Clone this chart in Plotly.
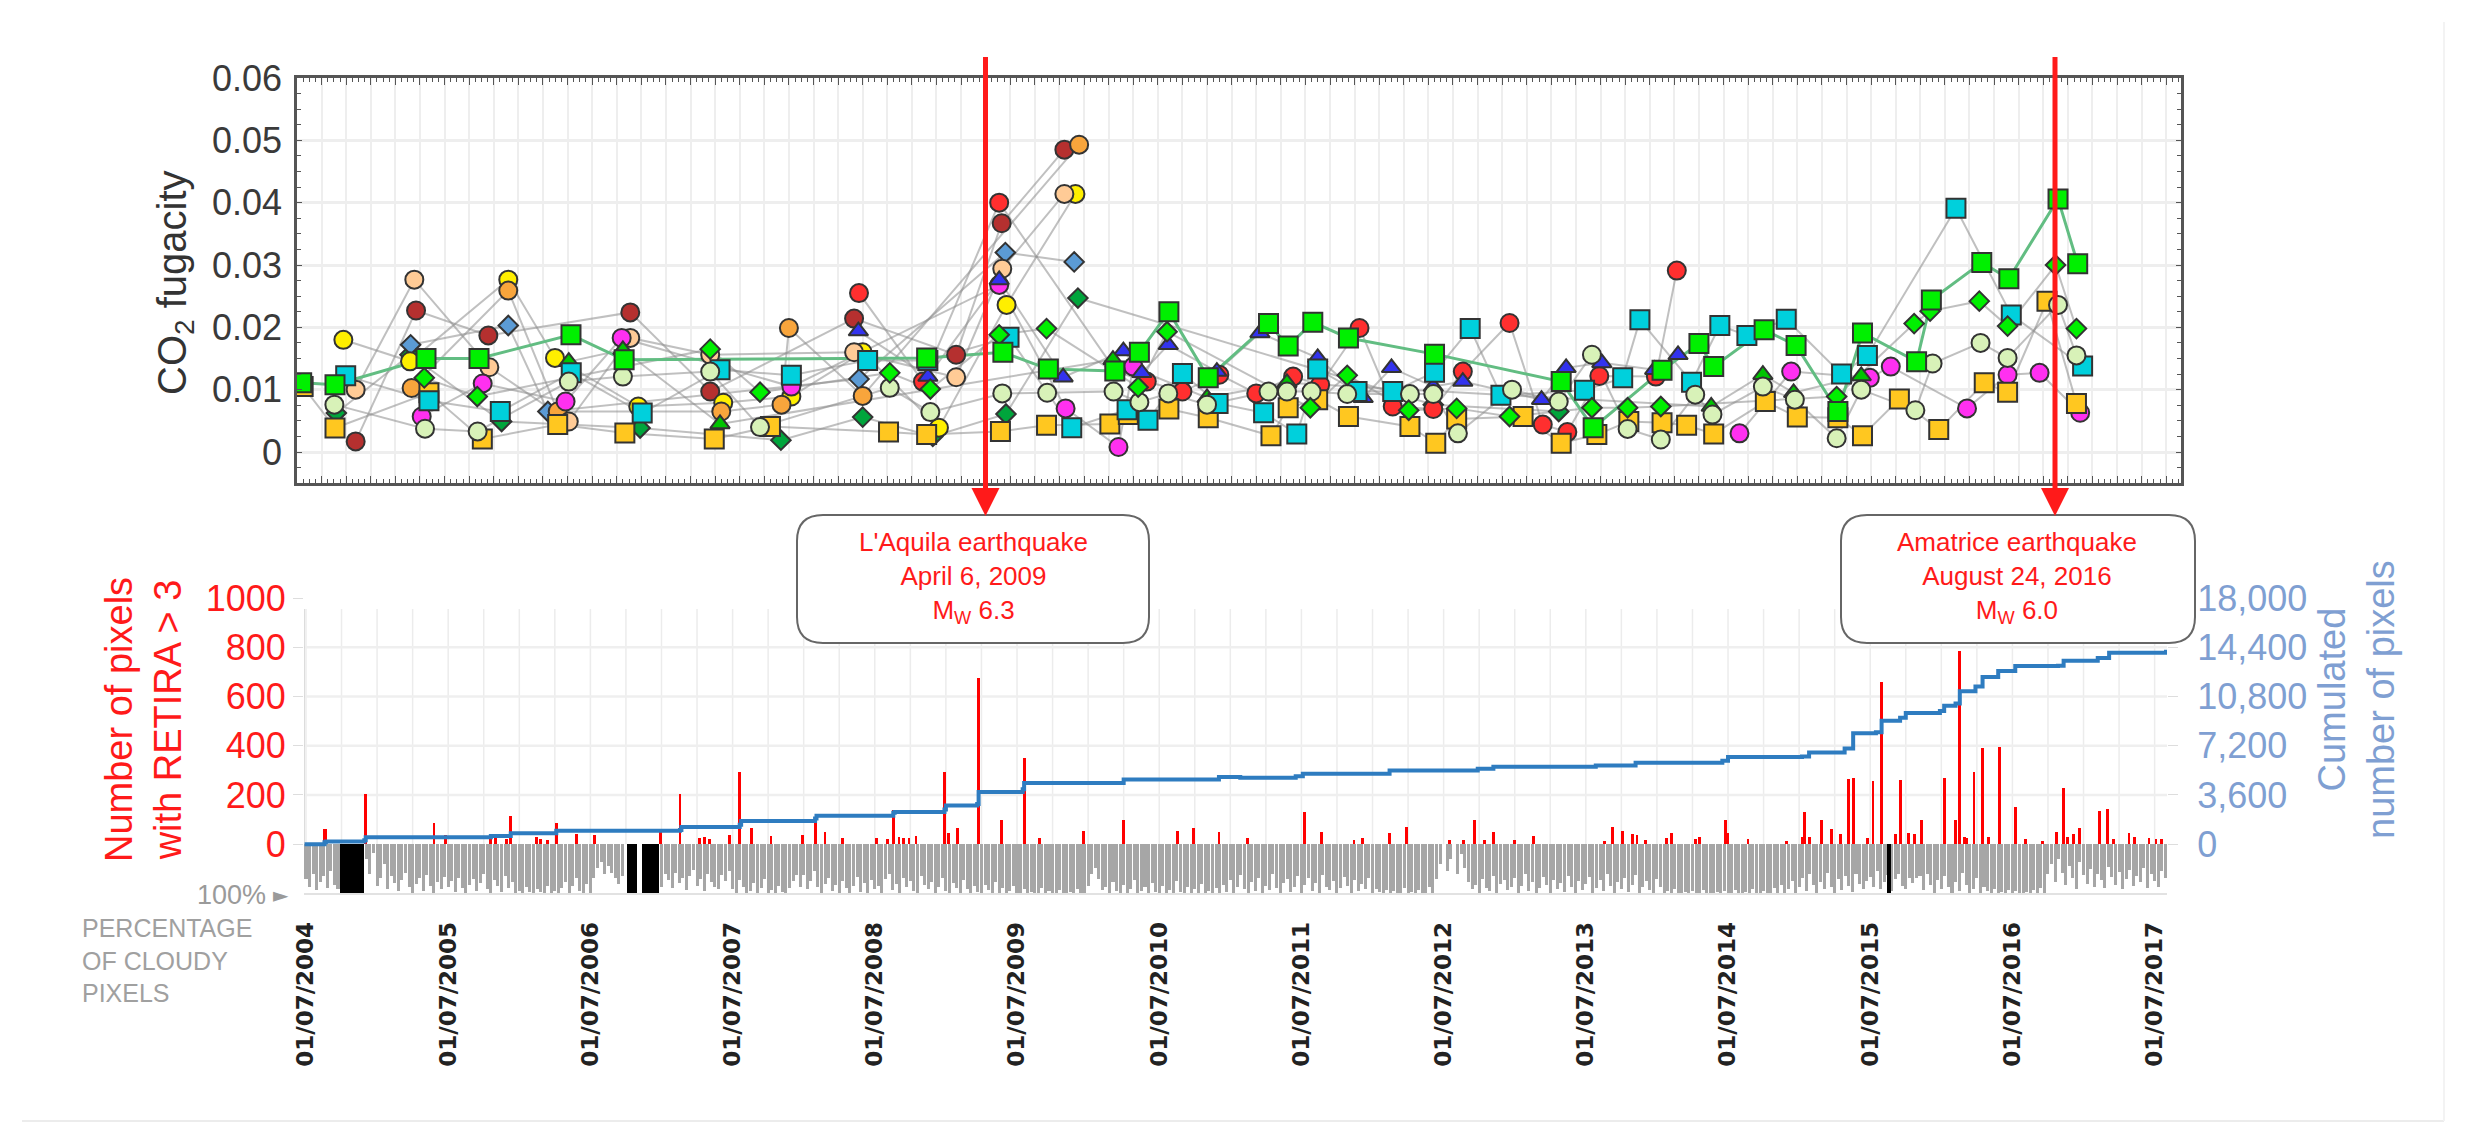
import plotly.graph_objects as go

W, H = 2475, 1139
PAGE_MARGIN = 8  # browser default body margin around the plot div

# ---- top panel: CO2 fugacity, x = months since July 2004
lime_sq_x = [0.38,3.09,10.49,14.8,22.28,26.6,51.2,57.4,61.1,66.5,68.5,70.9,74.1,79,80.6,82.6,85.5,92.5,102.8,105.4,111,114,115.2,119.3,121.9,125.3,127.3,131.7,132.9,137,139.2,143.2,144.8]
lime_sq_y = [.0111,.0108,.0150,.0150,.0188,.0148,.0151,.016,.0133,.013,.016,.0225,.0119,.0206,.017,.0208,.0183,.0157,.0113,.0039,.0131,.0174,.0137,.0196,.0171,.0065,.0191,.0145,.0244,.0304,.0278,.0406,.0302]

gold_sq_x = [0.5,3.09,10.73,15.07,21.2,26.66,33.93,38.5,48.1,51.2,57.2,60.95,66.1,67.6,70.9,74.1,79.2,80.6,83,85.5,90.5,92.6,94.3,99.7,102.8,105.7,108.3,111,113,115.2,119.4,122,125.3,127.3,130.3,133.5,137.2,139.1,142.3,144.7]
gold_sq_y = [.0105,.00385,.0095,.0021,.0044,.00305,.0021,.0041,.0032,.0028,.0033,.0043,.0045,.006,.0069,.0055,.0026,.0071,.0084,.0057,.0041,.0014,.0053,.0057,.0014,.0028,.0049,.0047,.0043,.0029,.0081,.0056,.0055,.0026,.0085,.0036,.0111,.0096,.0242,.0078]

cyan_sq_x = [3.96,10.73,16.53,22.3,28.07,34.4,40.2,46.4,51.3,57.9,63,67.5,69.2,72,74.9,78.6,81.3,83,86.2,89.1,92.5,95.4,97.9,104.7,107.8,109.2,113.4,115.7,117.9,121.1,125.6,127.7,134.9,139.4,145.2]
cyan_sq_y = [.01225,.00824,.0065,.0127,.00626,.0132,.0123,.0147,.0147,.0184,.0039,.0068,.0051,.0126,.0078,.0063,.0029,.0133,.0097,.0097,.0128,.0198,.0091,.0099,.0119,.0212,.0112,.0203,.0187,.0213,.0125,.0155,.0391,.022,.0138]

pale_x = [3.04,10.41,14.69,22.1,26.5,33.6,37.65,48.2,51.5,57.35,61,66.4,68.5,70.85,74,79,80.5,82.5,85.4,90.5,92.4,94.4,98.8,102.6,105.3,108.2,110.9,113.7,115.1,119.2,121.8,125.2,127.2,131.6,133,136.9,139.1,143.2,144.7]
pale_y = [.0076,.00374,.0033,.0113,.0121,.0129,.004,.0103,.0064,.0094,.0095,.0097,.008,.0094,.0076,.0097,.0097,.0097,.0093,.0093,.0093,.003,.01,.0081,.0156,.0037,.002,.0092,.006,.0105,.0084,.0022,.01,.0067,.0142,.0175,.0151,.0236,.0155]

lime_dia_x = [10.35,14.66,33.6,37.65,48.2,51.5,57.1,60.95,68.4,70.75,82.4,85.4,90.4,94.3,98.6,105.3,108.2,110.9,125.2,131.5,132.8,136.8,139.1,143,144.7]
lime_dia_y = [.0119,.0089,.0165,.0096,.0127,.0101,.0188,.0198,.0104,.0193,.0071,.0123,.0067,.007,.0057,.0071,.0071,.0073,.0089,.0206,.0226,.0242,.0202,.03,.0198]

dark_dia_x = [3.2,9.19,16.64,27.9,39.35,46,51.7,57.65,63.5,92.4,102.6]
dark_dia_y = [.00626,.0156,.0049,.00385,.0019,.0056,.0025,.0061,.0247,.0076,.0065]

blue_dia_x = [9.24,17.18,20.4,45.7,57.6,63.2]
blue_dia_y = [.0172,.0203,.0065,.0117,.032,.0305]

green_tri_x = [22.1,26.5,34.4,66.35,74,80.5,115,119.2,121.7,127.2]
green_tri_y = [.0145,.0164,.0045,.0148,.0087,.0111,.0073,.0124,.0095,.0122]

blue_tri_x = [45.65,51.3,57.1,62.3,67.2,68.7,70.85,74.8,78.3,83,86.7,89,92.4,94.8,101.2,103.2,106.1,110.4,112.3]
blue_tri_y = [.0194,.0121,.0276,.012,.0162,.0127,.0172,.0129,.0191,.0151,.0087,.0135,.0105,.0113,.0084,.0135,.0143,.0132,.0156]

red_x = [45.7,50.9,57.1,66.6,69.1,72,75,78,81,83.2,86.4,89.1,92.4,94.8,98.6,101.3,103.3,105.9,110.5,112.2]
red_y = [.0255,.0113,.04,.0129,.0113,.0097,.0124,.0094,.0121,.0108,.0199,.0073,.0069,.0129,.0207,.0044,.0032,.0122,.0121,.0291]

darkred_x = [4.77,9.68,15.56,27.1,33.6,45.3,53.6,57.3,62.4]
darkred_y = [.0017,.0227,.0187,.0224,.0097,.0214,.0156,.0367,.0485]

peach_x = [4.77,9.54,15.64,22.1,27.1,33.6,45.3,53.6,57.35,62.4]
peach_y = [.01,.02765,.0136,.0049,.0183,.0156,.016,.012,.0294,.0414]

orange_x = [9.32,17.18,21.2,34.5,39.4,40,46,63.6]
orange_y = [.01027,.0259,.0065,.0065,.0076,.0199,.009,.0493]

yellow_x = [3.77,9.19,17.18,20.98,27.75,34.66,40.2,46,52.2,57.7,63.3]
yellow_y = [.018,.01455,.02765,.0151,.0073,.0079,.0089,.016,.0039,.0236,.0414]

magenta_x = [10.14,15.1,21.84,26.4,40.2,57.1,62.5,66.8,68,90,117.3,121.5,127.9,129.6,135.8,139.1,141.7,145]
magenta_y = [.0057,.011,.0081,.0183,.0105,.0268,.007,.0008,.0137,None,.003,.0129,.0119,.0137,.007,.0124,.0127,.0063]

# ---- bottom panel, x = decimal year
red_bar_years = [2004.63,2004.64,2004.92,2005.40,2005.48,2005.80,2005.83,2005.91,2005.94,2006.12,2006.15,2006.20,2006.26,2006.40,2006.53,2006.99,2007.13,2007.27,2007.30,2007.34,2007.48,2007.55,2007.63,2007.77,2007.99,2008.08,2008.15,2008.27,2008.51,2008.59,2008.63,2008.67,2008.70,2008.74,2008.79,2008.99,2009.02,2009.08,2009.23,2009.39,2009.55,2009.66,2009.97,2010.25,2010.63,2010.74,2010.92,
                 2011.12,2011.52,2011.64,2011.87,2011.93,2012.12,2012.24,2012.54,2012.64,2012.72,2012.79,2012.85,2013.00,2013.13,2013.63,2013.69,2013.76,2013.83,2013.86,2013.92,2014.07,2014.10,2014.27,2014.30,2014.48,2014.50,2014.64,2014.91,2015.02,2015.04,2015.07,2015.16,2015.23,2015.29,2015.35,2015.38,2015.48,2015.52,2015.58,2015.68,2015.71,2015.77,2015.81,2015.86,2016.02,2016.10,2016.13,2016.16,2016.18,2016.23,2016.29,2016.33,2016.41,2016.52,2016.59,2016.71,2016.81,2016.86,2016.89,2016.93,2016.97,2017.11,2017.17,2017.21,2017.32,2017.36,2017.46,2017.51,2017.55]
red_bar_pixels = [60,60,205,85,38,25,25,22,115,30,20,18,88,40,38,55,205,25,28,20,38,295,65,35,38,100,50,25,25,20,140,30,25,25,35,295,45,65,675,100,350,25,55,100,55,65,50,
                  25,130,50,18,25,45,70,18,18,100,18,50,18,35,15,70,55,40,38,18,25,45,22,28,100,45,20,15,30,130,30,100,60,40,265,270,25,255,660,40,260,45,40,100,270,100,785,30,25,295,390,30,395,150,20,15,50,230,30,40,65,135,145,20,45,30,25,20,20]

cum_years = [2004.49,2004.63,2004.64,2004.91,2004.92,2005.80,2005.94,2006.26,2007.13,2007.14,2007.55,2007.56,2008.08,2008.09,2008.63,2008.64,2008.99,2009.00,2009.22,2009.23,2009.54,2009.55,2010.25,2010.92,
             2011.07,2011.46,2011.51,2012.12,2012.74,2012.85,2013.57,2013.85,2014.46,2014.50,2015.02,2015.07,2015.32,2015.38,2015.54,2015.58,2015.71,2015.75,2015.99,2016.02,2016.10,2016.13,2016.24,2016.29,2016.40,2016.52,2016.82,2016.86,2017.10,2017.18,2017.58]
cum_pixels = [0,150,208,300,507,596,805,983,1043,1252,1430,1699,1877,2086,2295,2354,2533,2831,2950,3814,4023,4470,4738,4917,
              4857,4977,5155,5394,5513,5662,5751,5960,6109,6377,6407,6705,7003,8106,8195,9029,9238,9596,9745,10132,10281,11175,11532,12217,12665,13022,13052,13410,13619,14006,14215]

# percentage of cloudy pixels, one reading per 0.025 year from mid 2004
cloud_start = 2004.5
cloud_step = 0.025
cloud_pct = [
    72,88,60,94,78,66,90,55,84,92,0,0,0,0,0,0,0,30,62,18,
    85,70,40,92,66,80,96,74,58,88,100,82,70,95,64,86,100,78,92,68,
    88,76,98,70,90,100,84,72,96,80,60,92,100,74,86,98,66,90,78,100,
    95,100,88,98,100,92,97,100,85,100,96,100,90,78,100,86,70,95,100,82,
    100,70,48,36,62,44,58,70,82,66,0,0,0,0,0,0,0,0,0,62,
    88,62,74,90,58,80,70,94,66,52,86,72,96,60,78,88,92,64,75,54,
    92,100,74,88,100,96,80,100,90,72,100,94,100,86,98,100,90,76,64,88,
    64,92,75,54,88,100,82,70,96,84,100,76,90,100,86,68,98,80,100,74,
    92,86,100,72,60,94,82,100,70,88,76,96,100,66,84,92,78,100,88,70,
    96,100,80,90,100,74,92,100,86,98,100,84,94,100,78,100,90,100,96,86,
    100,100,92,100,98,100,100,90,100,96,100,100,94,100,100,98,100,92,100,100,
    86,60,48,72,94,88,100,78,96,100,84,100,92,74,100,96,88,100,80,98,
    100,86,100,94,100,76,98,100,88,100,92,100,82,100,96,100,90,100,84,98,
    74,100,88,64,92,100,78,96,70,100,86,94,60,90,100,80,72,98,88,66,
    100,84,70,96,80,100,64,88,94,76,100,90,68,86,100,74,96,82,92,70,
    100,92,98,100,94,100,96,100,100,90,100,98,100,94,100,100,88,100,72,40,
    0,55,30,0,62,20,48,78,92,84,100,72,90,96,66,100,82,74,94,88,
    70,100,86,62,96,78,100,90,68,84,100,74,92,80,98,66,88,100,76,94,
    82,68,100,90,74,96,60,86,100,78,92,70,98,84,64,100,88,76,94,100,
    72,88,100,96,100,92,100,100,98,100,96,100,100,94,100,100,100,98,100,96,
    100,100,94,100,100,98,100,92,100,100,96,100,100,90,100,84,100,92,76,100,
    88,70,96,62,84,100,78,92,58,88,100,72,94,66,86,98,60,82,92,76,
    68,88,54,92,78,64,96,72,60,86,92,70,80,70,66,94,62,84,100,74,
    92,66,88,100,78,96,58,84,100,92,70,100,88,96,100,92,100,98,100,94,
    100,96,100,100,98,100,94,100,90,100,62,40,78,30,58,84,44,70,92,36,
    64,82,50,88,60,74,90,46,68,84,56,92,72,52,86,66,78,48,90,62,
    76,88,54,70,92,60,82,50,74,86,58,94,66,44,80,72,56,88,68,
]

black_start = [2004.74,2006.757,2006.863,2015.618]
black_end = [2004.908,2006.828,2006.982,2015.646]

year_labels = [f"01/07/{y}" for y in range(2004, 2018)]
right_ticks = [0,3600,7200,10800,14400,18000]
right_labels = ["0","3,600","7,200","10,800","14,400","18,000"]


def fx(px):
    return (px - PAGE_MARGIN) / (W - 2 * PAGE_MARGIN)


def fy(py):
    return 1 - (py - PAGE_MARGIN) / (H - 2 * PAGE_MARGIN)


def rounded_box(x0, y0, x1, y1, r):
    return (f"M {fx(x0+r)} {fy(y0)} L {fx(x1-r)} {fy(y0)} Q {fx(x1)} {fy(y0)} {fx(x1)} {fy(y0+r)} "
            f"L {fx(x1)} {fy(y1-r)} Q {fx(x1)} {fy(y1)} {fx(x1-r)} {fy(y1)} "
            f"L {fx(x0+r)} {fy(y1)} Q {fx(x0)} {fy(y1)} {fx(x0)} {fy(y1-r)} "
            f"L {fx(x0)} {fy(y0+r)} Q {fx(x0)} {fy(y0)} {fx(x0+r)} {fy(y0)} Z")


fig = go.Figure()

# drawing order of the scatter series, bottom to top
series = [
    (dark_dia_x, dark_dia_y, "diamond", "#00a53c", 15),
    (blue_dia_x, blue_dia_y, "diamond", "#5b9bd5", 15),
    (darkred_x, darkred_y, "circle", "#b5302f", 18),
    (red_x, red_y, "circle", "#ff2f2f", 18),
    (yellow_x, yellow_y, "circle", "#ffef00", 18),
    (orange_x, orange_y, "circle", "#f8a53c", 18),
    (peach_x, peach_y, "circle", "#ffcb96", 18),
    (magenta_x, magenta_y, "circle", "#ff30f0", 18),
    (blue_tri_x, blue_tri_y, "triangle-up", "#3333ee", 17),
    (green_tri_x, green_tri_y, "triangle-up", "#00c400", 17),
    (gold_sq_x, gold_sq_y, "square", "#ffc720", 19),
    (cyan_sq_x, cyan_sq_y, "square", "#00d0dc", 19),
    (pale_x, pale_y, "circle", "#d8f2b8", 18),
    (lime_dia_x, lime_dia_y, "diamond", "#00f000", 15),
    (lime_sq_x, lime_sq_y, "square", "#00f000", 19),
]

# lines first so they all stay under the markers
for xs, ys, sym, col, size in series:
    is_lime_sq = xs is lime_sq_x
    fig.add_trace(go.Scatter(
        x=xs, y=ys, mode="lines", xaxis="x", yaxis="y", showlegend=False,
        line=dict(color="#62bd82" if is_lime_sq else "rgba(140,140,140,0.55)", width=3 if is_lime_sq else 2),
    ))
for xs, ys, sym, col, size in series:
    fig.add_trace(go.Scatter(
        x=xs, y=ys, mode="markers", xaxis="x", yaxis="y", showlegend=False,
        marker=dict(symbol=sym, color=col, size=size, line=dict(color="#333333", width=2)),
    ))

# cloud cover hangs below the zero line of the bottom panel
cloud_years = [cloud_start + cloud_step * i for i in range(len(cloud_pct))]
fig.add_trace(go.Bar(
    x=cloud_years, y=[-p * 1.98 for p in cloud_pct], width=cloud_step * 0.85, xaxis="x2", yaxis="y2",
    marker=dict(color="#a6a6a6", line_width=0), showlegend=False,
))
fig.add_trace(go.Bar(
    x=[(a + b) / 2 for a, b in zip(black_start, black_end)], y=[-198] * len(black_start),
    width=[b - a for a, b in zip(black_start, black_end)], xaxis="x2", yaxis="y2",
    marker=dict(color="#000000", line_width=0), showlegend=False,
))
fig.add_trace(go.Bar(
    x=red_bar_years, y=red_bar_pixels, width=0.02, xaxis="x2", yaxis="y2",
    marker=dict(color="#ff0000", line_width=0), showlegend=False,
))
fig.add_trace(go.Scatter(
    x=cum_years, y=cum_pixels, mode="lines", xaxis="x2", yaxis="y3", showlegend=False,
    line=dict(color="#2e7cc0", width=4, shape="hv"),
))

shapes = []
# bottom panel grid stops short of the 1000 label
for i in range(53):
    yr = 2004.5 + i * 0.25
    shapes.append(dict(type="line", xref="x2", yref="y2", x0=yr, x1=yr, y0=0, y1=955,
                       line=dict(color="#ececec", width=1.5), layer="below"))
for v in [200, 400, 600, 800]:
    shapes.append(dict(type="line", xref="x2", yref="y2", x0=2004.486, x1=2017.587, y0=v, y1=v,
                       line=dict(color="#efefef", width=2.5), layer="below"))
shapes.append(dict(type="line", xref="x2", yref="y2", x0=2004.486, x1=2004.486, y0=0, y1=955,
                   line=dict(color="#d0d0d0", width=1.5), layer="below"))

# page frame
shapes.append(dict(type="line", xref="paper", yref="paper", x0=fx(22), x1=fx(2444), y0=fy(1121), y1=fy(1121),
                   line=dict(color="#ececec", width=2)))
shapes.append(dict(type="line", xref="paper", yref="paper", x0=fx(2444), x1=fx(2444), y0=fy(22), y1=fy(1121),
                   line=dict(color="#f3f3f3", width=2)))

# callouts and earthquake arrows
for box in [(797, 515, 1149, 643), (1841, 515, 2195, 643)]:
    shapes.append(dict(type="path", xref="paper", yref="paper", path=rounded_box(*box, 26),
                       fillcolor="white", line=dict(color="#666666", width=2)))
for ax in [985.5, 2055]:
    shapes.append(dict(type="line", xref="paper", yref="paper", x0=fx(ax), x1=fx(ax), y0=fy(57), y1=fy(490),
                       line=dict(color="#ff1a1a", width=5)))
    shapes.append(dict(type="path", xref="paper", yref="paper", fillcolor="#ff1a1a", line_width=0,
                       path=f"M {fx(ax-14)} {fy(488)} L {fx(ax+14)} {fy(488)} L {fx(ax)} {fy(516)} Z"))

txt = "Liberation Sans"
annotations = [
    dict(text="CO<sub>2</sub> fugacity", x=fx(175), y=fy(283), textangle=-90,
         font=dict(size=40, color="#333333", family=txt)),
    dict(text="Number of pixels<br>with RETIRA &gt; 3", x=fx(143), y=fy(720), textangle=-90,
         font=dict(size=38, color="#ff1a1a", family=txt)),
    dict(text="Cumulated<br>number of pixels", x=fx(2356), y=fy(700), textangle=-90,
         font=dict(size=38, color="#7f9fd2", family=txt)),
    dict(text="L'Aquila earthquake<br>April 6, 2009<br>M<sub>W</sub> 6.3", x=fx(973), y=fy(577),
         font=dict(size=26, color="#ff1a1a", family=txt)),
    dict(text="Amatrice earthquake<br>August 24, 2016<br>M<sub>W</sub> 6.0", x=fx(2017), y=fy(577),
         font=dict(size=26, color="#ff1a1a", family=txt)),
    dict(text="100%", x=fx(231), y=fy(895),
         font=dict(size=27, color="#9a9a9a", family=txt)),
    dict(text="►", x=fx(281), y=fy(895),
         font=dict(size=20, color="#9a9a9a", family="DejaVu Sans")),
    dict(text="PERCENTAGE<br>OF CLOUDY<br>PIXELS", x=fx(80), y=fy(960), xanchor="left", align="left",
         font=dict(size=25, color="#a0a0a0", family=txt)),
]
for a in annotations:
    a.setdefault("xanchor", "center")
    a.update(xref="paper", yref="paper", showarrow=False, yanchor="middle")

fig.update_layout(
    width=W - 2 * PAGE_MARGIN, height=H - 2 * PAGE_MARGIN,
    margin=dict(l=0, r=0, t=0, b=0, autoexpand=False),
    paper_bgcolor="white", plot_bgcolor="rgba(0,0,0,0)", barmode="overlay", bargap=0,
    shapes=shapes, annotations=annotations, showlegend=False,
    xaxis=dict(
        domain=[fx(297), fx(2181)], anchor="y", range=[0, 153.2], automargin=False,
        tick0=0, dtick=2, showgrid=True, gridcolor="#eeeeee", gridwidth=2,
        showticklabels=False, ticks="inside", ticklen=7, tickcolor="#555555",
        minor=dict(dtick=0.5, ticks="inside", ticklen=4, tickcolor="#555555", showgrid=False),
        showline=True, linecolor="#555555", linewidth=2.5, mirror="allticks", zeroline=False,
    ),
    yaxis=dict(
        domain=[fy(483), fy(78)], anchor="x", range=[-0.00497, 0.06], automargin=False,
        tickvals=[0, .01, .02, .03, .04, .05, .06], ticktext=["0", "0.01", "0.02", "0.03", "0.04", "0.05", "0.06"],
        showgrid=True, gridcolor="#eeeeee", gridwidth=2.5, zeroline=False,
        ticks="inside", ticklen=5, tickcolor="#555555",
        minor=dict(dtick=.0025, ticks="inside", ticklen=4, tickcolor="#555555", showgrid=False),
        showline=True, linecolor="#555555", linewidth=2.5, mirror="allticks",
        tickfont=dict(size=36, color="#3a3a3a", family=txt), ticklabelstandoff=5,
    ),
    xaxis2=dict(
        domain=[fx(304), fx(2167)], anchor="y2", range=[2004.486, 2017.587], automargin=False,
        tickvals=[2004.5 + i for i in range(14)], ticktext=year_labels, tickangle=-90,
        tickfont=dict(size=23, color="#222222", family="DejaVu Sans", weight=700),
        ticklabelstandoff=18, showgrid=False, zeroline=False, ticks="",
        showline=True, linecolor="#e2e2e2", linewidth=1.5,
    ),
    yaxis2=dict(
        domain=[fy(893), fy(598)], anchor="x2", range=[-198, 1000], automargin=False,
        tickvals=[0, 200, 400, 600, 800, 1000], showgrid=False, zeroline=False,
        ticks="outside", ticklen=10, tickcolor="#dddddd",
        tickfont=dict(size=36, color="#ff1a1a", family=txt),
    ),
    yaxis3=dict(
        domain=[fy(893), fy(598)], anchor="x2", overlaying="y2", side="right", automargin=False,
        range=[-3564, 18000], tickvals=right_ticks, ticktext=right_labels,
        showgrid=False, zeroline=False, ticks="outside", ticklen=10, tickcolor="#dddddd",
        tickfont=dict(size=36, color="#7f9fd2", family=txt), ticklabelstandoff=12,
    ),
)

fig.write_html("out.html")
